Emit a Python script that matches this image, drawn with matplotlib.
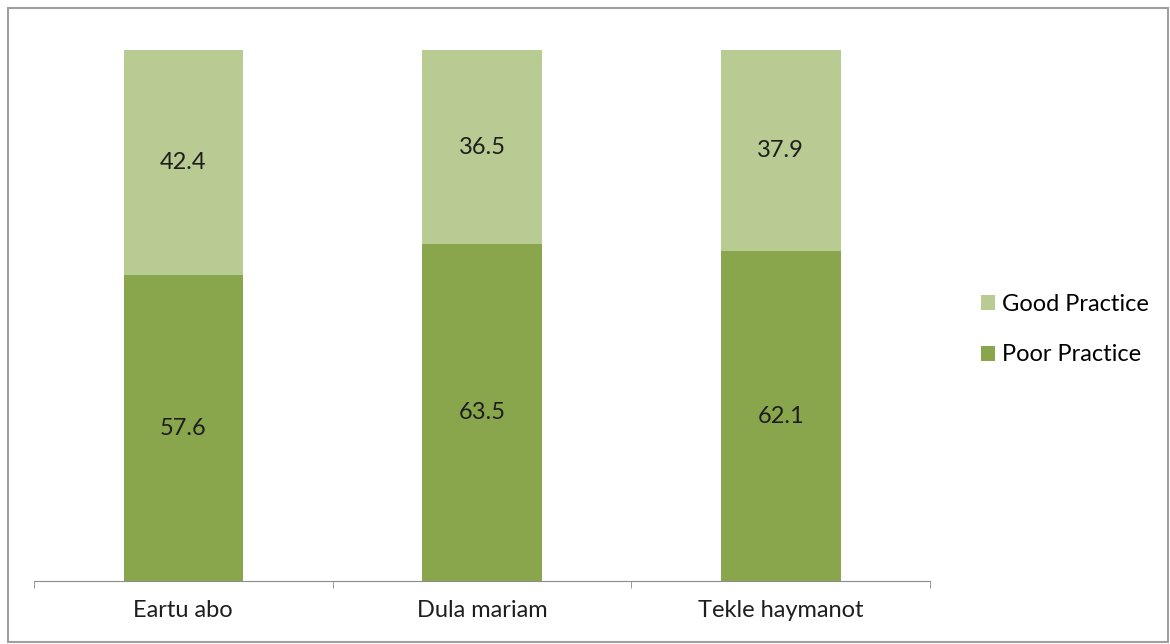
import numpy as np
import matplotlib
matplotlib.use("Agg")
import matplotlib.pyplot as plt
from matplotlib.patches import Rectangle

plt.rcParams['font.family'] = ['Lato', 'DejaVu Sans']

# datos
categorias = ["Eartu abo", "Dula mariam", "Tekle haymanot"]
poor = [57.6, 63.5, 62.1]
good = [42.4, 36.5, 37.9]

color_poor = "#8aa64c"
color_good = "#b7cb92"
color_texto = "#1e1e1e"

fig = plt.figure(figsize=(11.7, 6.44), dpi=100)
ax = fig.add_axes([0.029, 0.098, 0.766, 0.824])

x = np.arange(len(categorias))
b1 = ax.bar(x, poor, width=0.4, color=color_poor, label="Poor Practice")
b2 = ax.bar(x, good, width=0.4, bottom=poor, color=color_good, label="Good Practice")

for i in range(len(categorias)):
    ax.text(x[i], poor[i] / 2, f"{poor[i]:.1f}", ha="center", va="center",
            fontsize=17, color=color_texto)
    ax.text(x[i], poor[i] + good[i] / 2, f"{good[i]:.1f}", ha="center", va="center",
            fontsize=17, color=color_texto)

ax.set_xlim(-0.5, len(categorias) - 0.5)
ax.set_ylim(0, 100)
ax.set_yticks([])
for s in ["top", "right", "left"]:
    ax.spines[s].set_visible(False)
ax.spines["bottom"].set_color("#8c8c8c")
ax.set_xticks(x)
ax.set_xticklabels(categorias, fontsize=17, color=color_texto)
ax.tick_params(axis="x", which="major", length=0, pad=14)
ax.set_xticks(np.arange(-0.5, len(categorias)), minor=True)
ax.tick_params(axis="x", which="minor", length=5, color="#8c8c8c")

handles = [b2, b1]
leg = fig.legend(handles, ["Good Practice", "Poor Practice"], loc="center left",
                 bbox_to_anchor=(0.830, 0.488), frameon=False, fontsize=17,
                 handlelength=0.6, handleheight=0.6, handletextpad=0.3,
                 labelspacing=1.25, borderaxespad=0)

# borde del grafico
fig.patches.append(Rectangle((0.007, 0.003), 0.991, 0.985, transform=fig.transFigure,
                             fill=False, edgecolor="#a0a0a0", linewidth=1.5))

fig.savefig("out.png", dpi=100)
